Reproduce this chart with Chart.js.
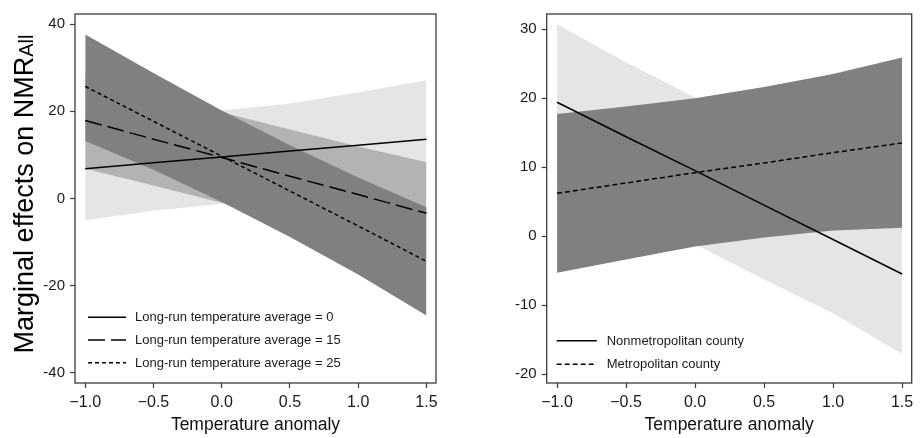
<!DOCTYPE html>
<html>
<head>
<meta charset="utf-8">
<script src="https://cdn.jsdelivr.net/npm/chart.js@4.4.1/dist/chart.umd.min.js"></script>
<style>
  html, body { margin: 0; padding: 0; background: #ffffff; }
  body { width: 920px; height: 438px; overflow: hidden; position: relative; }
  canvas { position: absolute; top: 0; }
</style>
</head>
<body>
<canvas id="left" width="460" height="438" style="left:0px"></canvas>
<canvas id="right" width="460" height="438" style="left:460px"></canvas>
<script>
// ---------------- DATA ----------------
const anomaly = [-1, -0.5, 0, 0.5, 1, 1.5];
const xTickValues = [-1, -0.5, 0, 0.5, 1, 1.5];

// Left panel: long-run temperature average
const leftLabels = [
  'Long-run temperature average = 0',
  'Long-run temperature average = 15',
  'Long-run temperature average = 25'
];
const me0   = [6.8, 8.2, 9.5, 10.9, 12.2, 13.6];
const me0Lo = [-5.0, -2.8, -1.2, -0.2, 0.1, 0.1];
const me0Hi = [18.6, 19.2, 20.2, 21.8, 24.3, 27.1];
const me15   = [17.9, 13.6, 9.4, 5.1, 0.9, -3.4];
const me15Lo = [6.8, 3.0, -1.0, -5.4, -10.1, -15.1];
const me15Hi = [29.0, 24.2, 19.8, 15.8, 11.9, 8.3];
const me25   = [25.7, 17.7, 9.7, 1.7, -6.3, -14.4];
const me25Lo = [13.2, 6.6, -0.8, -8.8, -17.4, -26.8];
const me25Hi = [37.6, 28.8, 20.2, 12.2, 4.8, -2.0];
const leftYTicks = [-40, -20, 0, 20, 40];

// Right panel: county type
const rightLabels = ['Nonmetropolitan county', 'Metropolitan county'];
const nonmetro   = [19.4, 14.4, 9.5, 4.5, -0.5, -5.5];
const nonmetroLo = [8.1, 3.6, -1.2, -6.3, -11.2, -17.1];
const nonmetroHi = [30.7, 25.2, 20.1, 15.3, 10.6, 6.1];
const metro   = [6.2, 7.7, 9.2, 10.6, 12.1, 13.5];
const metroLo = [-5.3, -3.4, -1.5, -0.2, 0.8, 1.2];
const metroHi = [17.7, 18.8, 20.0, 21.6, 23.5, 25.9];
const rightYTicks = [-20, -10, 0, 10, 20, 30];

const yTitleMain = 'Marginal effects on NMR';
const yTitleSub = 'All';
const xTitle = 'Temperature anomaly';

// ---------------- STYLE ----------------
const FONT = "'Liberation Sans', Arial, Helvetica, sans-serif";
const LIGHT = '#e5e5e5', MID = '#b3b3b3', DARK = '#808080';
const FRAME = '#3c3c3c';

Chart.defaults.font.family = FONT;
Chart.defaults.color = '#1a1a1a';

const pts = (ys) => anomaly.map((x, i) => ({ x: x, y: ys[i] }));

function lineDs(label, ys, dash) {
  return { label: label, data: pts(ys), borderColor: '#000', borderWidth: 1.5,
           borderDash: dash, pointRadius: 0, fill: false, tension: 0 };
}
function bandDs(ys, fillColor, fillTo) {
  return { label: '', data: pts(ys), borderWidth: 0, borderColor: 'rgba(0,0,0,0)',
           backgroundColor: fillColor, pointRadius: 0, fill: fillTo, tension: 0 };
}

const framePlugin = {
  id: 'frameBox',
  afterDatasetsDraw(chart) {
    const a = chart.chartArea, ctx = chart.ctx;
    ctx.save();
    ctx.strokeStyle = FRAME; ctx.lineWidth = 1.3;
    ctx.strokeRect(a.left, a.top, a.right - a.left, a.bottom - a.top);
    ctx.restore();
  }
};

const boxLegend = {
  id: 'boxLegend',
  afterDraw(chart, args, o) {
    if (!o || !o.items) return;
    const ctx = chart.ctx;
    ctx.save();
    o.items.forEach((idx, i) => {
      const ds = chart.data.datasets[idx];
      const y = o.y + i * o.gap;
      ctx.strokeStyle = ds.borderColor; ctx.lineWidth = ds.borderWidth;
      ctx.setLineDash(ds.borderDash || []);
      ctx.beginPath(); ctx.moveTo(o.x, y); ctx.lineTo(o.x + o.len, y); ctx.stroke();
      ctx.setLineDash([]);
      ctx.fillStyle = '#1a1a1a';
      ctx.font = '13px ' + FONT;
      ctx.textBaseline = 'middle';
      ctx.textAlign = 'left';
      ctx.fillText(ds.label, o.x + o.len + o.textGap, y + 0.5);
    });
    ctx.restore();
  }
};

const yTitlePlugin = {
  id: 'yTitle',
  afterDraw(chart, args, o) {
    if (!o || !o.main) return;
    const ctx = chart.ctx;
    ctx.save();
    const mainFont = o.size + 'px ' + FONT, subFont = o.subSize + 'px ' + FONT;
    ctx.font = mainFont; const w1 = ctx.measureText(o.main).width;
    ctx.font = subFont; const w2 = ctx.measureText(o.sub).width;
    ctx.translate(o.x, o.cy + (w1 + w2) / 2);
    ctx.rotate(-Math.PI / 2);
    ctx.fillStyle = '#000';
    ctx.textBaseline = 'alphabetic';
    ctx.textAlign = 'left';
    ctx.font = mainFont; ctx.fillText(o.main, 0, 0);
    ctx.font = subFont; ctx.fillText(o.sub, w1, o.subShift || 0);
    ctx.restore();
  }
};

function makeScales(yMin, yMax, yTicks, yWidth) {
  return {
    x: {
      type: 'linear', min: -1.075, max: 1.57,
      afterBuildTicks: (s) => { s.ticks = xTickValues.map(v => ({ value: v })); },
      afterFit: (s) => { s.height = 55; },
      grid: { drawOnChartArea: false, tickLength: 5, tickColor: FRAME, tickWidth: 1.2 },
      border: { display: false },
      ticks: {
        font: { size: 16 }, color: '#1a1a1a', padding: 5, maxRotation: 0, autoSkip: false,
        callback: (v) => (v < 0 ? '\u2212' : '') + Math.abs(v).toFixed(1)
      },
      title: { display: true, text: xTitle, font: { size: 17.5 }, color: '#111',
               padding: { top: 0, bottom: 2 } }
    },
    y: {
      type: 'linear', min: yMin, max: yMax,
      afterBuildTicks: (s) => { s.ticks = yTicks.map(v => ({ value: v })); },
      afterFit: (s) => { s.width = yWidth; },
      grid: { drawOnChartArea: false, tickLength: 5, tickColor: FRAME, tickWidth: 1.2 },
      border: { display: false },
      ticks: { font: { size: 15 }, color: '#1a1a1a', padding: 5, autoSkip: false,
               callback: (v) => String(v) }
    }
  };
}

// ---------------- LEFT CHART ----------------
new Chart(document.getElementById('left'), {
  type: 'line',
  data: {
    datasets: [
      lineDs(leftLabels[0], me0, []),
      lineDs(leftLabels[1], me15, [17, 6]),
      lineDs(leftLabels[2], me25, [4, 3]),
      bandDs(me25Hi, DARK, '+1'),
      bandDs(me25Lo, DARK, false),
      bandDs(me15Hi, MID, '+1'),
      bandDs(me15Lo, MID, false),
      bandDs(me0Hi, LIGHT, '+1'),
      bandDs(me0Lo, LIGHT, false)
    ]
  },
  options: {
    responsive: false, animation: false, devicePixelRatio: 1,
    layout: { padding: { left: 0, right: 24, top: 8, bottom: 0 } },
    scales: makeScales(-42.3, 42.3, leftYTicks, 75),
    plugins: {
      legend: { display: false }, tooltip: { enabled: false },
      boxLegend: { items: [0, 1, 2], x: 88, y: 317.3, gap: 22.7, len: 38, textGap: 9 },
      yTitle: { main: yTitleMain, sub: yTitleSub, size: 27, subSize: 20, x: 33, cy: 194, subShift: 0 }
    }
  },
  plugins: [framePlugin, boxLegend, yTitlePlugin]
});

// ---------------- RIGHT CHART ----------------
new Chart(document.getElementById('right'), {
  type: 'line',
  data: {
    datasets: [
      lineDs(rightLabels[0], nonmetro, []),
      lineDs(rightLabels[1], metro, [5, 3]),
      bandDs(metroHi, DARK, '+1'),
      bandDs(metroLo, DARK, false),
      bandDs(nonmetroHi, LIGHT, '+1'),
      bandDs(nonmetroLo, LIGHT, false)
    ]
  },
  options: {
    responsive: false, animation: false, devicePixelRatio: 1,
    layout: { padding: { left: 0, right: 8.3, top: 6, bottom: 0 } },
    scales: makeScales(-21.3, 32.2, rightYTicks, 86.7),
    plugins: {
      legend: { display: false }, tooltip: { enabled: false },
      boxLegend: { items: [0, 1], x: 96.7, y: 340.7, gap: 23.6, len: 40, textGap: 10 }
    }
  },
  plugins: [framePlugin, boxLegend]
});
</script>
</body>
</html>
